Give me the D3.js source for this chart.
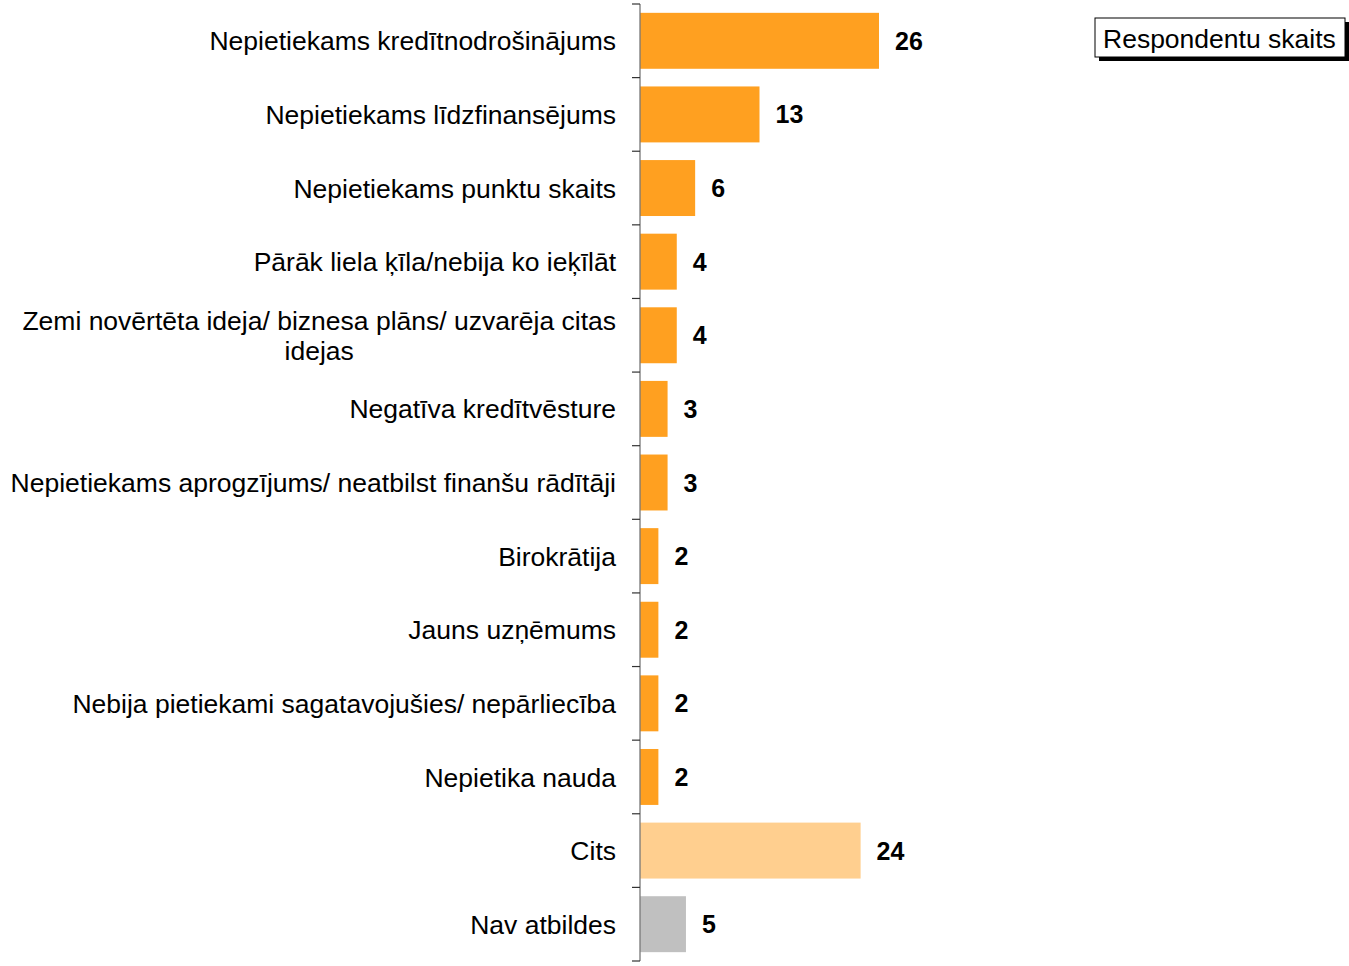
<!DOCTYPE html>
<html><head><meta charset="utf-8">
<script src="https://cdn.jsdelivr.net/npm/d3@7"></script>
<style>body{margin:0;background:#fff}svg{display:block}text{font-family:"Liberation Sans",Arial,sans-serif}</style>
</head><body><svg id="c" width="1349" height="966"></svg>
<script>
const categories = [
 "Nepietiekams kredītnodrošinājums",
 "Nepietiekams līdzfinansējums",
 "Nepietiekams punktu skaits",
 "Pārāk liela ķīla/nebija ko ieķīlāt",
 "Zemi novērtēta ideja/ biznesa plāns/ uzvarēja citas idejas",
 "Negatīva kredītvēsture",
 "Nepietiekams aprogzījums/ neatbilst finanšu rādītāji",
 "Birokrātija",
 "Jauns uzņēmums",
 "Nebija pietiekami sagatavojušies/ nepārliecība",
 "Nepietika nauda",
 "Cits",
 "Nav atbildes"
];
const values = [26, 13, 6, 4, 4, 3, 3, 2, 2, 2, 2, 24, 5];
const kinds = ["main","main","main","main","main","main","main","main","main","main","main","other","none"];
const legendLabel = "Respondentu skaits";
const colors = {main:"#FFA020", other:"#FFCF8F", none:"#C0C0C0"};

const FS = 26.5;
const svg = d3.select("#c");
const x = d3.scaleLinear().domain([0, 26]).range([640, 879]);
const y = d3.scaleBand().domain(categories).range([4, 961]).paddingInner(0.24).paddingOuter(0.12);

svg.selectAll("rect.bar").data(values).enter().append("rect")
 .attr("x", x(0)).attr("y", (d,i)=>y(categories[i]))
 .attr("width", d=>x(d)-x(0)).attr("height", y.bandwidth())
 .attr("fill", (d,i)=>colors[kinds[i]]);

svg.selectAll("text.val").data(values).enter().append("text")
 .attr("x", d=>x(d)+16).attr("y", (d,i)=>y(categories[i])+y.bandwidth()/2)
 .attr("dy","0.36em").attr("font-size",25).attr("font-weight","bold").attr("fill","#000")
 .text(d=>d);

const yTop = 4, yBot = 961;
svg.append("line").attr("x1",640).attr("x2",640).attr("y1",yTop).attr("y2",yBot).attr("stroke","#777").attr("stroke-width",1.3);
const bounds = d3.range(categories.length+1).map(i=>yTop + i*(yBot-yTop)/categories.length);
svg.selectAll("line.tk").data(bounds).enter().append("line")
 .attr("x1",632).attr("x2",640).attr("y1",d=>d).attr("y2",d=>d).attr("stroke","#333").attr("stroke-width",1.2);

const maxW = 615;
function measure(s){const p=svg.append("text").attr("font-size",FS).text(s);const w=p.node().getComputedTextLength();p.remove();return w;}
categories.forEach((c,i)=>{
  const cy = y(c)+y.bandwidth()/2;
  const t = svg.append("text").attr("font-size",FS).attr("fill","#000").attr("text-anchor","end").attr("x",616);
  if (measure(c) > maxW) {
    const words = c.split(" ");
    let lines=[], cur=[];
    words.forEach(w=>{
      const trial = cur.concat([w]).join(" ");
      if (measure(trial) > maxW && cur.length){ lines.push(cur.join(" ")); cur=[w]; }
      else cur.push(w);
    });
    lines.push(cur.join(" "));
    const bw = d3.max(lines, measure);
    const cx = 616 - bw/2;
    t.attr("text-anchor","middle");
    const lh = 30;
    lines.forEach((l,j)=>{
      t.append("tspan").attr("x",cx).attr("y", cy + (j-(lines.length-1)/2)*lh).attr("dy","0.36em").text(l);
    });
  } else {
    t.attr("y",cy).attr("dy","0.36em").text(c);
  }
});

const lg = svg.append("g");
lg.append("rect").attr("x",1099).attr("y",22).attr("width",250).attr("height",39).attr("fill","#000");
lg.append("rect").attr("x",1095).attr("y",18).attr("width",250).attr("height",39).attr("fill","#fff").attr("stroke","#000").attr("stroke-width",1);
lg.append("text").attr("x",1103).attr("y",38).attr("dy","0.36em").attr("font-size",FS).text(legendLabel);
</script></body></html>
